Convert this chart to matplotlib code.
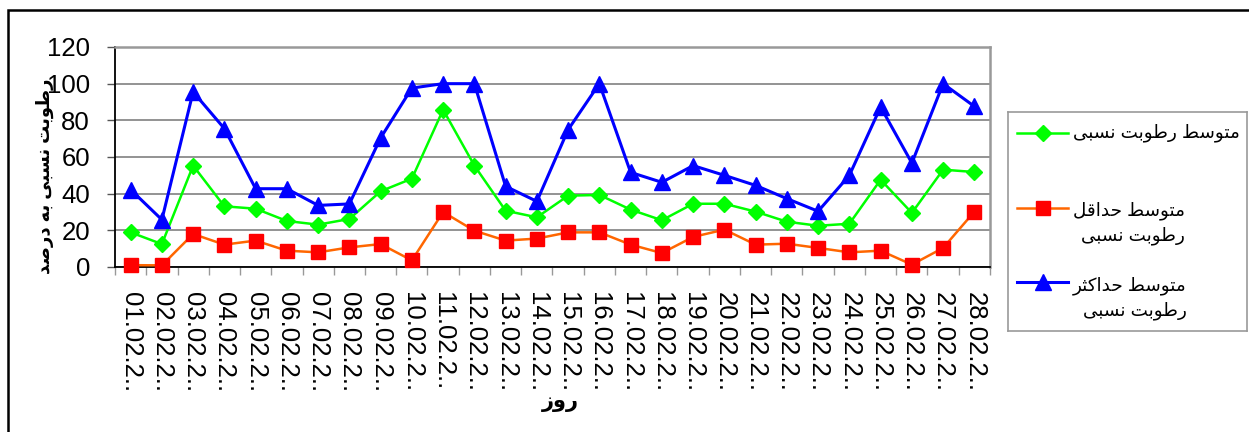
import matplotlib
matplotlib.use('Agg')
import matplotlib.pyplot as plt
from matplotlib.lines import Line2D
from matplotlib.patches import Rectangle

# days of February (labels are cut off in the original chart)
days = ['01.02.2..', '02.02.2..', '03.02.2..', '04.02.2..', '05.02.2..', '06.02.2..', '07.02.2..',
        '08.02.2..', '09.02.2..', '10.02.2..', '11.02.2..', '12.02.2..', '13.02.2..', '14.02.2..',
        '15.02.2..', '16.02.2..', '17.02.2..', '18.02.2..', '19.02.2..', '20.02.2..', '21.02.2..',
        '22.02.2..', '23.02.2..', '24.02.2..', '25.02.2..', '26.02.2..', '27.02.2..', '28.02.2..']

# relative humidity in percent
rh_mean = [18.9, 12.5, 55.3, 33.1, 31.8, 25.1, 23.1, 26.2, 41.3, 48.2, 85.8, 55.3, 30.7, 27.1,
           38.9, 39.3, 31.3, 25.5, 34.5, 34.5, 30.2, 24.7, 22.5, 23.6, 47.6, 29.5, 53.1, 51.8]
rh_min = [1.0, 0.9, 18.0, 12.2, 14.4, 8.9, 8.0, 10.7, 12.5, 3.6, 30.0, 19.8, 14.4, 15.5,
          18.9, 18.9, 12.2, 7.6, 16.4, 20.4, 12.2, 12.7, 10.4, 8.0, 8.9, 1.3, 10.4, 30.2]
rh_max = [42.2, 25.8, 95.5, 75.5, 42.7, 42.7, 33.6, 34.4, 70.4, 97.6, 100.0, 100.0, 44.0, 35.8,
          74.9, 100.0, 51.6, 46.2, 55.3, 50.0, 44.5, 37.3, 30.4, 50.0, 87.3, 56.7, 100.0, 87.6]

yticks = [0, 20, 40, 60, 80, 100, 120]

# matplotlib has no arabic shaping, so pick the presentation forms by hand
# (isolated, final, initial, medial)
FORMS = {
    '\u0627': ('\uFE8D', '\uFE8E', None, None),
    '\u0628': ('\uFE8F', '\uFE90', '\uFE91', '\uFE92'),
    '\u062A': ('\uFE95', '\uFE96', '\uFE97', '\uFE98'),
    '\u062B': ('\uFE99', '\uFE9A', '\uFE9B', '\uFE9C'),
    '\u062D': ('\uFEA1', '\uFEA2', '\uFEA3', '\uFEA4'),
    '\u062F': ('\uFEA9', '\uFEAA', None, None),
    '\u0631': ('\uFEAD', '\uFEAE', None, None),
    '\u0632': ('\uFEAF', '\uFEB0', None, None),
    '\u0633': ('\uFEB1', '\uFEB2', '\uFEB3', '\uFEB4'),
    '\u0635': ('\uFEB9', '\uFEBA', '\uFEBB', '\uFEBC'),
    '\u0637': ('\uFEC1', '\uFEC2', '\uFEC3', '\uFEC4'),
    '\u0642': ('\uFED5', '\uFED6', '\uFED7', '\uFED8'),
    '\u0644': ('\uFEDD', '\uFEDE', '\uFEDF', '\uFEE0'),
    '\u0645': ('\uFEE1', '\uFEE2', '\uFEE3', '\uFEE4'),
    '\u0646': ('\uFEE5', '\uFEE6', '\uFEE7', '\uFEE8'),
    '\u0647': ('\uFEE9', '\uFEEA', '\uFEEB', '\uFEEC'),
    '\u0648': ('\uFEED', '\uFEEE', None, None),
    '\u06A9': ('\uFB8E', '\uFB8F', '\uFB90', '\uFB91'),
    '\u06CC': ('\uFBFC', '\uFBFD', '\uFBFE', '\uFBFF'),
}


def shape_line(line):
    out = []
    for i, ch in enumerate(line):
        if ch not in FORMS:
            out.append(ch)
            continue
        prev = line[i - 1] if i > 0 else ''
        nxt = line[i + 1] if i + 1 < len(line) else ''
        join_prev = prev in FORMS and FORMS[prev][2] is not None
        join_next = FORMS[ch][2] is not None and nxt in FORMS
        iso, fin, ini, med = FORMS[ch]
        if join_prev and join_next:
            out.append(med)
        elif join_prev:
            out.append(fin)
        elif join_next:
            out.append(ini)
        else:
            out.append(iso)
    return ''.join(reversed(out))


def fa(text):
    return '\n'.join(shape_line(l) for l in text.split('\n'))


plt.rcParams['font.family'] = ['Liberation Sans', 'DejaVu Sans']

W, H = 1249, 432
fig = plt.figure(figsize=(W / 100, H / 100), dpi=100)

# outer frame of the chart (runs off the right and bottom edge)
fig.add_artist(Rectangle((8 / W, -0.1), 1.2, 1.1 - 10 / H, transform=fig.transFigure,
                         fill=False, lw=1.8, ec='black', clip_on=False))

ax = fig.add_axes([115 / W, 1 - 267 / H, 875 / W, 220 / H])

x = list(range(len(days)))
series = [
    (rh_mean, '#00FF00', '#00FF00', 'D', 8, 1.8),
    (rh_min, '#FF6600', '#FF0000', 's', 10, 1.8),
    (rh_max, '#0000FF', '#0000FF', '^', 11, 2.2),
]
for vals, lc, mc, m, ms, lw in series:
    ax.plot(x, vals, color=lc, lw=lw, marker=m, ms=ms, mfc=mc, mec=mc, clip_on=False, zorder=3)

ax.set_xlim(-0.5, len(days) - 0.5)
ax.set_ylim(0, 120)
ax.set_yticks(yticks)
ax.set_yticklabels([str(v) for v in yticks], fontsize=18.5)
ax.set_xticks(x)
ax.set_xticklabels(days, rotation=270, fontsize=18.5, va='top', ha='center')
ax.set_xticks([i - 0.5 for i in range(len(days) + 1)], minor=True)
ax.tick_params(axis='x', which='major', length=0, pad=18)
ax.tick_params(axis='x', which='minor', length=6, color='#999999', width=1)
ax.tick_params(axis='y', length=6, width=1, color='#555555', pad=12)

ax.grid(axis='y', color='#808080', lw=1.2)
ax.set_axisbelow(True)
for s in ['left', 'bottom']:
    ax.spines[s].set_color('black')
    ax.spines[s].set_linewidth(1.3)
for s in ['top', 'right']:
    ax.spines[s].set_color('#999999')
    ax.spines[s].set_linewidth(1.8)

ax.set_ylabel(fa('رطوبت نسبی به درصد'), fontsize=13, fontweight='bold', va='center')
ax.yaxis.set_label_coords(-0.08, 0.414)
ax.set_xlabel(fa('روز'), fontsize=15, fontweight='bold', va='center')
ax.xaxis.set_label_coords(0.509, -0.618)

# legend box drawn in its own axes (pixel-like units, y down)
lax = fig.add_axes([1008 / W, 1 - 331 / H, 239 / W, 219 / H])
lax.set_xlim(0, 239)
lax.set_ylim(219, 0)
lax.set_xticks([])
lax.set_yticks([])
for s in lax.spines.values():
    s.set_color('#999999')
    s.set_linewidth(1.2)

labels = ['متوسط رطوبت نسبی', 'متوسط حداقل\nرطوبت نسبی', 'متوسط حداکثر\nرطوبت نسبی']
handle_y = [21, 96, 170]
text_y = [21, 111, 186]
for (vals, lc, mc, m, ms, lw), lab, hy, ty in zip(series, labels, handle_y, text_y):
    lax.add_line(Line2D([9, 34.5, 60], [hy, hy, hy], color=lc, lw=lw, marker=m, ms=ms,
                        mfc=mc, mec=mc, markevery=[1]))
    lax.text(65, ty, fa(lab), fontsize=13.2, ha='left', va='center', multialignment='right',
             linespacing=1.45)

fig.savefig('out.png', dpi=100)
